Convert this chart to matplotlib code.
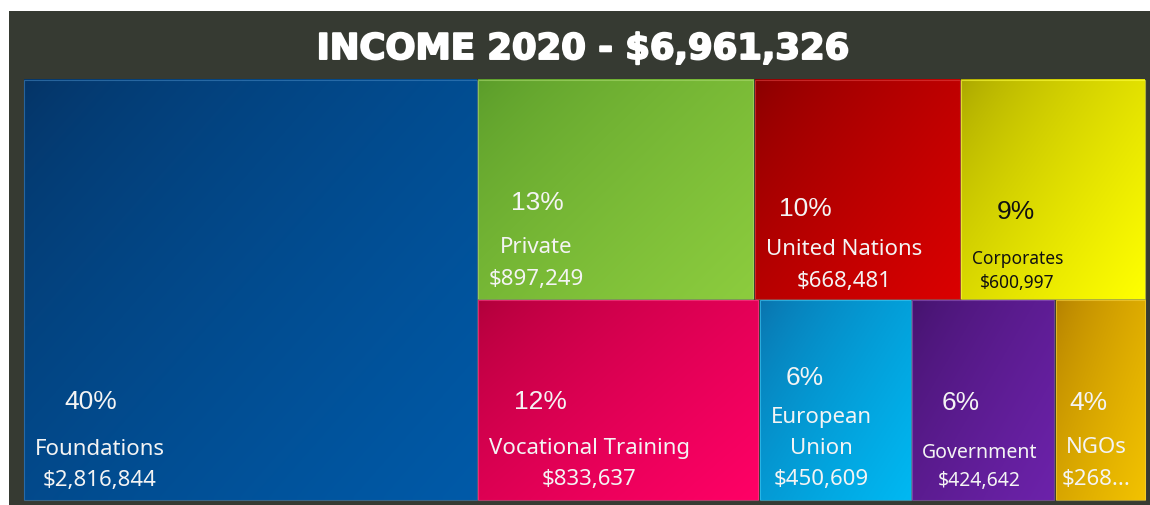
import numpy as np
import matplotlib
matplotlib.use("Agg")
import matplotlib.pyplot as plt
from matplotlib.colors import to_rgb
import matplotlib.patheffects as pe

# ---------------- data ----------------
title = "INCOME 2020 - $6,961,326"
categories = ["Foundations", "Private", "United Nations", "Corporates",
              "Vocational Training", "European Union", "Government", "NGOs"]
values = [2816844, 897249, 668481, 600997, 833637, 450609, 424642, 268867]
value_labels = ["$2,816,844", "$897,249", "$668,481", "$600,997",
                "$833,637", "$450,609", "$424,642", "$268..."]
name_labels = ["Foundations", "Private", "United Nations", "Corporates",
               "Vocational Training", "European\nUnion", "Government", "NGOs"]

# treemap grouping: one column, then two rows stacked in the remaining area
groups = [[0], [1, 2, 3], [4, 5, 6, 7]]

# ---------------- style ----------------
dark_colors = ["#053466", "#5a9c2a", "#880000", "#aaa600", "#b0003a", "#0a72ac", "#44136c", "#b48000"]
light_colors = ["#005aa8", "#8ccc3e", "#da0000", "#ffff00", "#ff0066", "#00b8f2", "#6c22aa", "#f2c200"]
text_colors = ["#f4f4f4"] * 3 + ["#111111"] + ["#f4f4f4"] * 4
name_sizes = [16, 16, 16, 12.5, 16, 16, 14, 16]
pct_size = 19
# label offsets (pixels): pct centre x from left, pct baseline from bottom,
# name centre x from left, name baseline from bottom, value baseline from bottom
pct_dx = [68, 60, 51, 55, 63, 45, 49, 33]
pct_dy = [93, 91, 85, 82, 93, 117, 92, 92]
name_dx = [77, 59, 90, 57, 112, 62, 68, 41]
name_dy = [47, 48, 46, 37, 48, 48, 44, 49]
val_dy = [16, 16, 14, 13, 17, 17, 16, 17]
line_step = 31

W, H = 1150, 506
fig = plt.figure(figsize=(W / 100, H / 100), dpi=100)
fig.patch.set_facecolor("white")
ax = fig.add_axes([0, 0, 1, 1])
ax.set_xlim(0, W)
ax.set_ylim(H, 0)
ax.axis("off")

# panel
ax.add_patch(plt.Rectangle((9, 12), W - 9, H - 12, facecolor="#363a32", edgecolor="none", zorder=0))
ax.text(583, 60, title, ha="center", va="baseline", color="white", fontsize=25.5,
        fontweight="bold", family="DejaVu Sans",
        path_effects=[pe.withStroke(linewidth=1.4, foreground="white")], zorder=5)

# ---------------- layout ----------------
X0, Y0, X1, Y1 = 23, 80, 1146, 502
total = sum(values)
rects = [None] * len(values)
col_w = (X1 - X0) * sum(values[i] for i in groups[0]) / total
rects[groups[0][0]] = (X0, Y0, X0 + col_w, Y1)
rest_total = total - sum(values[i] for i in groups[0])
ry = Y0
for g in groups[1:]:
    gsum = sum(values[i] for i in g)
    gh = (Y1 - Y0) * gsum / rest_total
    rx = X0 + col_w
    for i in g:
        w = (X1 - X0 - col_w) * values[i] / gsum
        rects[i] = (rx, ry, rx + w, ry + gh)
        rx += w
    ry += gh

n = 64
u = np.linspace(0, 1, n)
U, V = np.meshgrid(u, u)
T = np.clip(0.55 * U + 0.45 * V, 0, 1) ** 0.7

for i, (x0, y0, x1, y1) in enumerate(rects):
    g = 0.8
    a, b = np.array(to_rgb(dark_colors[i])), np.array(to_rgb(light_colors[i]))
    img = a[None, None, :] * (1 - T[..., None]) + b[None, None, :] * T[..., None]
    ax.imshow(img, extent=(x0 + g, x1 - g, y1 - g, y0 + g), interpolation="bilinear",
              aspect="auto", zorder=1)
    edge = 0.75 * b + 0.25
    ax.add_patch(plt.Rectangle((x0 + g, y0 + g), x1 - x0 - 2 * g, y1 - y0 - 2 * g,
                               facecolor="none", edgecolor=edge, lw=0.8, alpha=0.6, zorder=2))
    pct = f"{round(100 * values[i] / total)}%"
    ax.text(x0 + pct_dx[i], y1 - pct_dy[i], pct, ha="center", va="baseline",
            color=text_colors[i], fontsize=pct_size, family="Liberation Sans", zorder=3)
    lines = name_labels[i].split("\n")
    for k, line in enumerate(lines):
        yb = y1 - name_dy[i] - (len(lines) - 1 - k) * line_step
        ax.text(x0 + name_dx[i], yb, line, ha="center", va="baseline",
                color=text_colors[i], fontsize=name_sizes[i], family="Noto Sans", zorder=3)
    ax.text(x0 + name_dx[i], y1 - val_dy[i], value_labels[i], ha="center", va="baseline",
            color=text_colors[i], fontsize=name_sizes[i], family="Noto Sans", zorder=3)

ax.set_ylim(H, 0)
ax.set_xlim(0, W)
fig.savefig("out.png", dpi=100, facecolor="white")
